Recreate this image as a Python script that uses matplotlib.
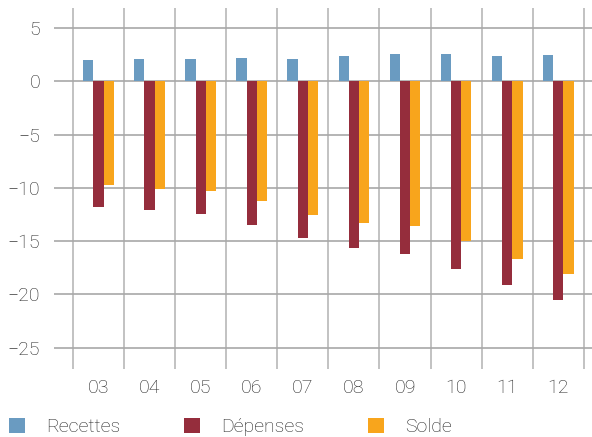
import matplotlib
matplotlib.use("Agg")
import matplotlib.pyplot as plt
import numpy as np

# data
years = ["03", "04", "05", "06", "07", "08", "09", "10", "11", "12"]
recettes = [2.0, 2.1, 2.1, 2.2, 2.1, 2.4, 2.6, 2.6, 2.4, 2.5]
depenses = [-11.8, -12.1, -12.4, -13.5, -14.7, -15.6, -16.2, -17.6, -19.1, -20.5]
solde = [-9.7, -10.1, -10.3, -11.2, -12.5, -13.3, -13.6, -15.0, -16.7, -18.1]

labels = ["Recettes", "Dépenses", "Solde"]
colors = ["#6a9bc1", "#952d3c", "#f8a51c"]

plt.rcParams["font.family"] = ["Roboto", "DejaVu Sans"]
plt.rcParams["font.weight"] = "light"
text_color = "#222222"
grid_color = "#a8a8a8"
fs = 14

fig = plt.figure(figsize=(5.92, 4.37), dpi=100)
ax = fig.add_axes([54 / 592, 1 - 369 / 437, 1 - 54 / 592, (369 - 8) / 437])

x = np.arange(len(years))
w = 0.2
for off, vals, col, lab in zip([-w, 0, w], [recettes, depenses, solde], colors, labels):
    ax.bar(x + off, vals, width=w, color=col, label=lab, linewidth=0)

ax.set_xlim(-0.87, 9.66)
ax.set_ylim(-27, 6.9)
ax.set_yticks([5, 0, -5, -10, -15, -20, -25])
ax.set_yticklabels(["5", "0", "\u22125", "\u221210", "\u221215", "\u221220", "\u221225"])
ax.set_xticks(x)
ax.set_xticklabels(years)
ax.set_xticks(np.arange(-0.5, len(years)), minor=True)

ax.set_axisbelow(True)
ax.grid(axis="y", which="major", color=grid_color, linewidth=1.2)
ax.grid(axis="x", which="minor", color="#b8b8b8", linewidth=1.2)
ax.tick_params(axis="both", which="both", length=0, labelsize=fs,
               labelcolor=text_color, pad=10)
ax.tick_params(axis="x", pad=7)
for sp in ax.spines.values():
    sp.set_visible(False)

fig.legend(loc="center left", bbox_to_anchor=(9 / 592, 1 - 427 / 437),
           ncol=3, frameon=False, fontsize=fs, labelcolor=text_color,
           handlelength=0.82, handleheight=0.82, handletextpad=1.08,
           columnspacing=3.3, borderaxespad=0, borderpad=0)

fig.savefig("out.png", dpi=100)
